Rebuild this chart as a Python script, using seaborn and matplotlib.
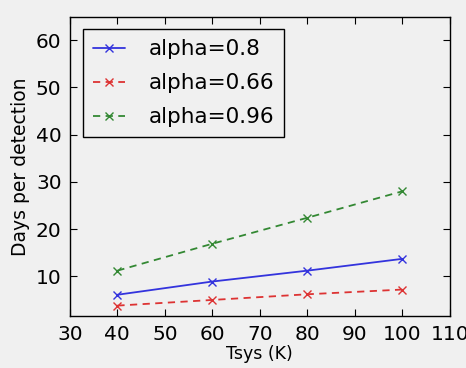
import matplotlib
matplotlib.use("Agg")
import matplotlib.pyplot as plt
import seaborn as sns
import pandas as pd

tsys = [40, 60, 80, 100]
labels = ["alpha=0.8", "alpha=0.66", "alpha=0.96"]
days_08 = [6.1, 8.9, 11.2, 13.7]
days_066 = [3.8, 5.0, 6.2, 7.2]
days_096 = [11.2, 16.9, 22.4, 28.0]

colors = ["#3333dd", "#dd3333", "#338833"]
styles = ["-", (0, (4, 3)), (0, (4, 3))]

sns.set_style("ticks")
plt.rcParams["font.family"] = ["DejaVu Sans"]
plt.rcParams["text.color"] = "black"
plt.rcParams["xtick.color"] = "black"
plt.rcParams["ytick.color"] = "black"
plt.rcParams["axes.labelcolor"] = "black"
bg = "#f0f0f0"

fig, ax = plt.subplots(figsize=(4.66, 3.68), dpi=100)
fig.patch.set_facecolor(bg)
ax.set_facecolor(bg)

for lab, vals, c, ls in zip(labels, [days_08, days_066, days_096], colors, styles):
    d = pd.DataFrame({"Tsys": tsys, "days": vals})
    sns.lineplot(data=d, x="Tsys", y="days", color=c, linestyle=ls, marker="x",
                 markersize=6, markeredgecolor=c, markeredgewidth=1,
                 linewidth=1.3, label=lab, ax=ax)

ax.set_xlim(30, 110)
ax.set_ylim(1.5, 65)
ax.set_xticks(range(30, 111, 10))
ax.set_yticks(range(10, 61, 10))
ax.tick_params(direction="in", top=True, right=True, labelsize=14.5, length=5, pad=6)
for s in ax.spines.values():
    s.set_color("black")
    s.set_linewidth(1)
ax.set_xlabel("Tsys (K)", fontsize=12.5, labelpad=1)
ax.set_ylabel("Days per detection", fontsize=13.5)

leg = ax.legend(loc="upper left", fontsize=15.5, frameon=True, fancybox=False,
                handlelength=1.5, handletextpad=1.1, borderpad=0.45,
                labelspacing=0.65, borderaxespad=0.6)
leg.get_frame().set_edgecolor("black")
leg.get_frame().set_facecolor(bg)
leg.get_frame().set_alpha(1)

fig.subplots_adjust(left=0.15, right=0.965, top=0.955, bottom=0.14)
fig.savefig("out.png", dpi=100, facecolor=bg)
